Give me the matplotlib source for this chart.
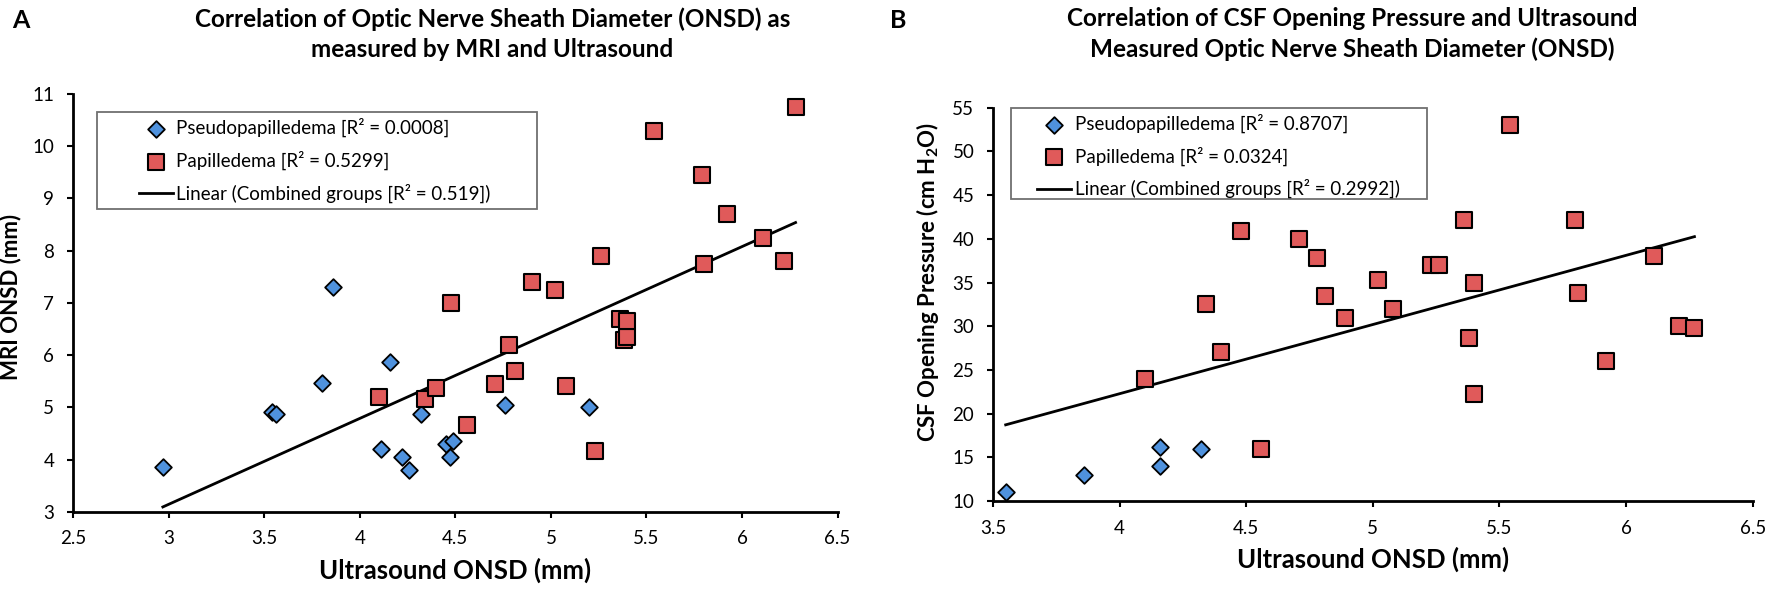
import numpy as np
import matplotlib
matplotlib.use("Agg")
import matplotlib.pyplot as plt
from matplotlib.ticker import FuncFormatter, MultipleLocator
from matplotlib.patches import Rectangle

plt.rcParams['font.family'] = ['Lato', 'DejaVu Sans']
plt.rcParams['mathtext.fontset'] = 'custom'
plt.rcParams['mathtext.rm'] = 'Lato'
plt.rcParams['mathtext.bf'] = 'Lato:bold'

# ---------------- Panel A data ----------------
a_pseudo_us = [2.97, 3.54, 3.56, 3.80, 3.86, 4.11, 4.16, 4.22, 4.26, 4.32, 4.45, 4.47, 4.49, 4.76, 5.20]
a_pseudo_mri = [3.85, 4.91, 4.87, 5.46, 7.31, 4.21, 5.86, 4.05, 3.80, 4.87, 4.30, 4.05, 4.35, 5.05, 5.01]
a_pap_us = [4.10, 4.34, 4.40, 4.48, 4.56, 4.71, 4.78, 4.81, 4.90, 5.02, 5.08, 5.23,
            5.26, 5.36, 5.38, 5.40, 5.40, 5.54, 5.79, 5.80, 5.92, 6.11, 6.22, 6.28]
a_pap_mri = [5.20, 5.16, 5.36, 7.00, 4.66, 5.45, 6.20, 5.70, 7.40, 7.25, 5.40, 4.16,
             7.89, 6.70, 6.29, 6.35, 6.65, 10.30, 9.44, 7.75, 8.70, 8.24, 7.80, 10.75]

# ---------------- Panel B data ----------------
b_pseudo_us = [3.55, 3.86, 4.16, 4.16, 4.32]
b_pseudo_csf = [11.0, 13.0, 16.2, 14.0, 16.0]
b_pap_us = [4.10, 4.34, 4.40, 4.48, 4.56, 4.71, 4.78, 4.81, 4.89, 5.02, 5.08, 5.23,
            5.26, 5.36, 5.38, 5.40, 5.40, 5.54, 5.80, 5.81, 5.92, 6.11, 6.21, 6.27]
b_pap_csf = [24.0, 32.5, 27.1, 40.9, 16.0, 40.0, 37.8, 33.5, 30.9, 35.3, 32.0, 37.0,
             37.0, 42.1, 28.7, 34.9, 22.3, 53.0, 42.1, 33.8, 26.0, 38.0, 30.0, 29.8]

a_labels = ['Pseudopapilledema [R\u00b2 = 0.0008]', 'Papilledema [R\u00b2 = 0.5299]',
            'Linear (Combined groups [R\u00b2 = 0.519])']
b_labels = ['Pseudopapilledema [R\u00b2 = 0.8707]', 'Papilledema [R\u00b2 = 0.0324]',
            'Linear (Combined groups [R\u00b2 = 0.2992])']

BLUE = '#4F92DE'
RED = '#E05A5A'

fig = plt.figure(figsize=(17.72, 5.89), dpi=100)
axA = fig.add_axes([0.0412, 0.1312, 0.4315, 0.7092])
axB = fig.add_axes([0.5604, 0.1494, 0.4287, 0.6677])

fmt = FuncFormatter(lambda v, p: f'{v:g}')


def draw(ax, px, py, qx, qy, labels, xlim, ylim, ystep, box, leg_anchor):
    h1 = ax.scatter(px, py, marker='D', s=72, facecolor=BLUE, edgecolor='black',
                    linewidth=1.3, zorder=3)
    h2 = ax.scatter(qx, qy, marker='s', s=118, facecolor=RED, edgecolor='black',
                    linewidth=1.5, zorder=3)
    allx = np.array(list(px) + list(qx))
    ally = np.array(list(py) + list(qy))
    m, c = np.polyfit(allx, ally, 1)
    xs = np.array([allx.min(), allx.max()])
    h3, = ax.plot(xs, m * xs + c, color='black', lw=2, zorder=2)
    ax.set_xlim(*xlim)
    ax.set_ylim(*ylim)
    ax.xaxis.set_major_locator(MultipleLocator(0.5))
    ax.yaxis.set_major_locator(MultipleLocator(ystep))
    ax.xaxis.set_major_formatter(fmt)
    ax.yaxis.set_major_formatter(fmt)
    for s in ['top', 'right']:
        ax.spines[s].set_visible(False)
    for s in ['left', 'bottom']:
        ax.spines[s].set_linewidth(2)
    ax.tick_params(direction='out', length=4.5, width=1.5, labelsize=13.5, pad=9)
    ax.add_patch(Rectangle(box[:2], box[2], box[3], transform=ax.transAxes,
                           facecolor='white', edgecolor='#707070', lw=1.3,
                           zorder=4, clip_on=False))
    leg = ax.legend([h1, h2, h3], labels, loc='upper left', bbox_to_anchor=leg_anchor,
                    fontsize=13.5, frameon=False, handlelength=1.8, handletextpad=0.2,
                    borderpad=0, labelspacing=0.72, borderaxespad=0)
    leg.set_zorder(5)
    return ax


draw(axA, a_pseudo_us, a_pseudo_mri, a_pap_us, a_pap_mri, a_labels,
     (2.5, 6.5), (3, 11), 1, (0.031, 0.725, 0.576, 0.232), (0.086, 0.942))
draw(axB, b_pseudo_us, b_pseudo_csf, b_pap_us, b_pap_csf, b_labels,
     (3.5, 6.5), (10, 55), 5, (0.024, 0.768, 0.547, 0.232), (0.058, 0.985))

axA.set_xlabel('Ultrasound ONSD (mm)', fontsize=18.5, fontweight='bold', labelpad=7)
axA.set_ylabel('MRI ONSD (mm)', fontsize=16, fontweight='bold')
axA.yaxis.set_label_coords(-0.068, 0.514)
axB.set_xlabel('Ultrasound ONSD (mm)', fontsize=18.5, fontweight='bold', labelpad=7)
axB.set_ylabel(r'CSF Opening Pressure (cm H$_\mathbf{2}$O)', fontsize=16,
               fontweight='bold')
axB.yaxis.set_label_coords(-0.068, 0.557)

fig.text(0.278, 0.988, 'Correlation of Optic Nerve Sheath Diameter (ONSD) as\nmeasured by MRI and Ultrasound',
         ha='center', va='top', fontsize=17.5, fontweight='bold', linespacing=1.4)
fig.text(0.763, 0.988, 'Correlation of CSF Opening Pressure and Ultrasound\nMeasured Optic Nerve Sheath Diameter (ONSD)',
         ha='center', va='top', fontsize=17.5, fontweight='bold', linespacing=1.4)
fig.text(0.007, 0.985, 'A', ha='left', va='top', fontsize=18, fontweight='bold')
fig.text(0.502, 0.985, 'B', ha='left', va='top', fontsize=18, fontweight='bold')

fig.savefig('out.png', dpi=100)
